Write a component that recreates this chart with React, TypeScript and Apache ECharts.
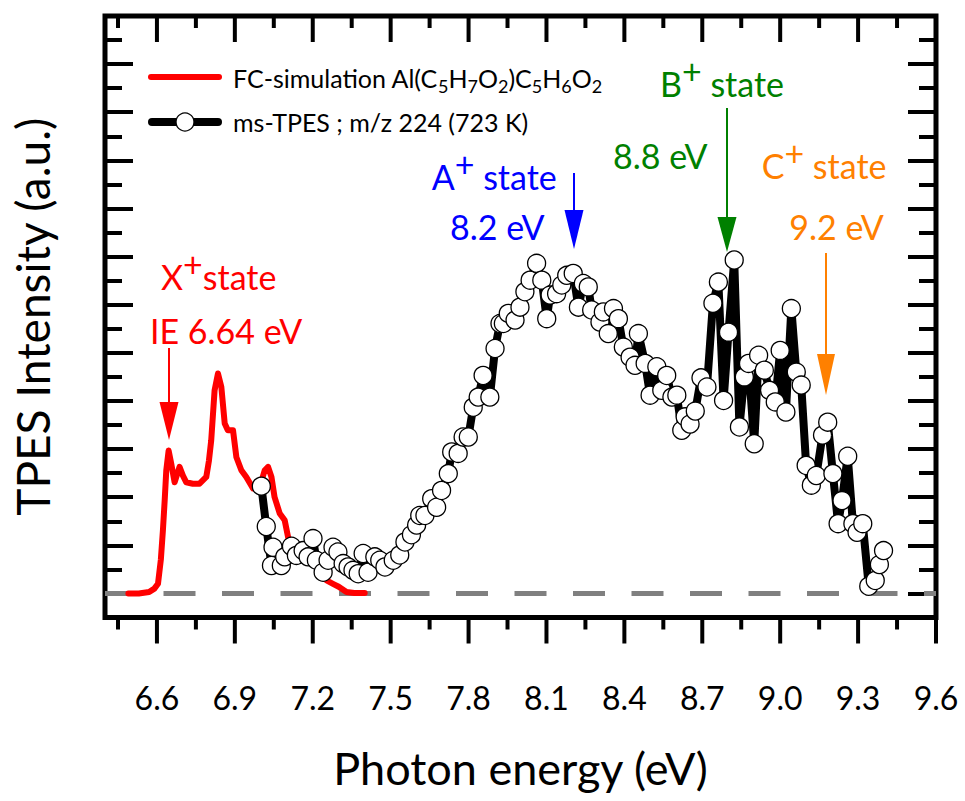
import React, { useEffect, useRef } from "react";
import * as echarts from "echarts";

// Franck-Condon simulation (red curve)
const fcEnergy = [
  6.49, 6.53, 6.57, 6.59, 6.604, 6.615, 6.623, 6.63, 6.636, 6.645, 6.655, 6.668, 6.687, 6.7,
  6.713, 6.738, 6.764, 6.79, 6.8, 6.809, 6.822, 6.835, 6.848, 6.861, 6.873, 6.893, 6.906,
  6.925, 6.944, 6.97, 6.996, 7.015, 7.028, 7.041, 7.053, 7.073, 7.092, 7.105, 7.124, 7.163,
  7.201, 7.227, 7.253, 7.278, 7.3, 7.33, 7.36, 7.4,
];
const fcIntensity = [
  0.0, 0.0, 0.03, 0.1, 0.2, 0.7, 1.31, 1.95, 2.56, 2.97, 2.7, 2.31, 2.63, 2.45,
  2.31, 2.28, 2.28, 2.42, 2.75, 3.18, 4.22, 4.57, 4.29, 3.53, 3.39, 3.39, 2.83,
  2.56, 2.42, 2.18, 2.21, 2.56, 2.63, 2.42, 2.0, 1.66, 1.52, 1.17, 0.89, 0.69,
  0.62, 0.48, 0.27, 0.2, 0.14, 0.03, 0.01, 0.01,
];

// Mass-selected TPES, m/z 224 (black line with open circles)
const tpesEnergy = [
  7.002, 7.021, 7.041, 7.047, 7.079, 7.092, 7.118, 7.137, 7.163, 7.182, 7.201, 7.214, 7.24,
  7.259, 7.278, 7.297, 7.317, 7.336, 7.355, 7.375, 7.394, 7.413, 7.439, 7.458, 7.478, 7.51,
  7.535, 7.555, 7.58, 7.6, 7.612, 7.632, 7.658, 7.677, 7.696, 7.722, 7.735, 7.76, 7.779,
  7.799, 7.818, 7.837, 7.856, 7.882, 7.902, 7.921, 7.934, 7.953, 7.979, 7.998, 8.017, 8.037,
  8.062, 8.082, 8.101, 8.114, 8.139, 8.159, 8.178, 8.203, 8.223, 8.242, 8.261, 8.274, 8.306,
  8.319, 8.338, 8.358, 8.377, 8.396, 8.422, 8.441, 8.454, 8.48, 8.499, 8.525, 8.544, 8.563,
  8.583, 8.602, 8.621, 8.634, 8.653, 8.673, 8.695, 8.718, 8.741, 8.762, 8.782, 8.801, 8.823,
  8.843, 8.862, 8.878, 8.9, 8.917, 8.939, 8.959, 8.981, 9.0, 9.022, 9.043, 9.062, 9.081,
  9.1, 9.12, 9.139, 9.163, 9.183, 9.203, 9.223, 9.238, 9.26, 9.28, 9.296, 9.318, 9.341,
  9.366, 9.382, 9.398,
];
const tpesIntensity = [
  2.23, 1.39, 0.58, 0.96, 0.58, 0.76, 0.98, 0.79, 0.89, 0.76, 1.14, 0.69, 0.44,
  0.69, 0.96, 0.86, 0.62, 0.55, 0.48, 0.41, 0.83, 0.44, 0.76, 0.69, 0.55, 0.69,
  0.8, 1.07, 1.22, 1.42, 1.62, 1.62, 1.97, 1.79, 2.14, 2.49, 2.94, 2.91, 3.25,
  3.25, 3.87, 4.08, 4.53, 4.08, 5.09, 5.61, 5.61, 5.82, 5.68, 5.95, 6.27, 6.51,
  6.86, 6.51, 5.71, 6.2, 6.23, 6.41, 6.61, 6.65, 5.95, 6.44, 6.37, 5.89, 5.64,
  5.85, 5.4, 5.92, 5.71, 5.12, 4.91, 4.74, 5.4, 4.78, 4.12, 4.71, 4.22, 4.53,
  4.08, 4.12, 3.39, 3.67, 3.52, 3.79, 4.48, 4.29, 6.03, 6.47, 4.01, 5.43, 6.93,
  3.46, 4.5, 4.78, 3.11, 4.95, 4.64, 4.22, 3.98, 5.05, 3.77, 5.92, 4.6, 4.33,
  2.66, 2.25, 2.45, 3.29, 3.56, 2.49, 1.45, 1.93, 2.85, 1.45, 1.27, 1.45, 0.15,
  0.27, 0.6, 0.89,
];

// Axis extent and tick positions
const xMin = 6.4;
const xMax = 9.6;
const yMin = -0.5;
const yMax = 12;
const baselineLevel = 0;
const xMajorTicks = [6.6, 6.9, 7.2, 7.5, 7.8, 8.1, 8.4, 8.7, 9.0, 9.3, 9.6];
const xMinorTicks = [6.45, 6.75, 7.05, 7.35, 7.65, 7.95, 8.25, 8.55, 8.85, 9.15, 9.45];
const yMajorTicks = [0, 1, 2, 3, 4, 5, 6, 7, 8, 9, 10, 11, 12];
const yMinorTicks = [0.5, 1.5, 2.5, 3.5, 4.5, 5.5, 6.5, 7.5, 8.5, 9.5, 10.5, 11.5];

const FONT = "Lato, 'Open Sans', sans-serif";
const RED = "#ff0000";
const BLUE = "#0000ff";
const GREEN = "#008000";
const ORANGE = "#ff8000";

const GRID = { left: 105, right: 29, top: 16, bottom: 183.5 };

function baseAxis(kind: "x" | "y", gridIndex: number, position: string, extra: Record<string, unknown> = {}) {
  return {
    type: "value",
    gridIndex,
    position,
    min: kind === "x" ? xMin : yMin,
    max: kind === "x" ? xMax : yMax,
    splitLine: { show: false },
    axisLine: { show: false, onZero: false },
    axisTick: { show: false },
    axisLabel: { show: false },
    ...extra,
  };
}

const tickStyle = { color: "#000", width: 4 };

function yTickAxis(gridIndex: number, position: string, values: number[], length: number) {
  return baseAxis("y", gridIndex, position, {
    axisTick: { show: true, inside: true, length, customValues: values, lineStyle: tickStyle },
  });
}

// Energy-axis ticks drawn through the x scale: outward at the bottom, inward at the top
function xTickSeries(values: number[], length: number) {
  return {
    type: "custom",
    xAxisIndex: 0,
    yAxisIndex: 0,
    silent: true,
    clip: false,
    z: 10,
    data: values.map((v) => [v, yMin]),
    encode: { x: 0, y: 1 },
    renderItem: (_params: any, api: any) => {
      const v = api.value(0);
      const bottom = api.coord([v, yMin]);
      const top = api.coord([v, yMax]);
      const style = { stroke: "#000", lineWidth: 4 };
      return {
        type: "group",
        children: [
          { type: "line", shape: { x1: bottom[0], y1: bottom[1], x2: bottom[0], y2: bottom[1] + length }, style },
          { type: "line", shape: { x1: top[0], y1: top[1], x2: top[0], y2: top[1] + length }, style },
        ],
      };
    },
  };
}

function arrow(x: number, top: number, headTop: number, tip: number, half: number, color: string) {
  return [
    {
      type: "line",
      z: 100,
      shape: { x1: x, y1: top, x2: x, y2: headTop + 2 },
      style: { stroke: color, lineWidth: 2 },
    },
    {
      type: "polygon",
      z: 100,
      shape: { points: [[x - half, headTop], [x + half, headTop], [x, tip]] },
      style: { fill: color },
    },
  ];
}

function stateLabel(letter: string, x: number, y: number, color: string, gap: string) {
  return {
    type: "text",
    z: 100,
    x,
    y,
    style: {
      text: `${letter}{p|+}${gap}state`,
      fill: color,
      fontSize: 34,
      fontFamily: FONT,
      lineHeight: 60,
      verticalAlign: "middle",
      align: "left",
      rich: {
        p: { fontSize: 34, lineHeight: 18, verticalAlign: "top", fill: color, fontFamily: FONT },
      },
    },
  };
}

function plainLabel(text: string, x: number, y: number, color: string) {
  return {
    type: "text",
    z: 100,
    x,
    y,
    style: { text, fill: color, fontSize: 34, fontFamily: FONT, verticalAlign: "middle", align: "left" },
  };
}

export default function App() {
  const ref = useRef<HTMLDivElement>(null);

  useEffect(() => {
    if (!ref.current) return;
    const chart = echarts.init(ref.current, null, { renderer: "svg" });

    const fcData = fcEnergy.map((e, i) => [e, fcIntensity[i]]);
    const tpesData = tpesEnergy.map((e, i) => [e, tpesIntensity[i]]);

    const subStyle = { fontSize: 18, lineHeight: 14, verticalAlign: "bottom", fill: "#000", fontFamily: FONT };

    chart.setOption({
      animation: false,
      backgroundColor: "#ffffff",
      grid: [
        { ...GRID, show: true, borderColor: "#000", borderWidth: 5, backgroundColor: "transparent" },
        { ...GRID, show: false },
        { ...GRID, show: false },
      ],
      xAxis: [
        baseAxis("x", 0, "bottom", {
          axisLabel: {
            show: true,
            customValues: xMajorTicks,
            formatter: (v: number) => v.toFixed(1),
            fontSize: 32,
            margin: 64,
            color: "#000",
            fontFamily: FONT,
          },
          name: "Photon energy (eV)",
          nameLocation: "middle",
          nameGap: 128,
          nameTextStyle: { fontSize: 45, color: "#000", fontFamily: FONT },
        }),
        baseAxis("x", 1, "bottom"),
        baseAxis("x", 2, "bottom"),
      ],
      yAxis: [
        baseAxis("y", 0, "left", {
          name: "TPES Intensity (a.u.)",
          nameLocation: "middle",
          nameRotate: 90,
          nameGap: 50,
          nameTextStyle: { fontSize: 46, color: "#000", fontFamily: FONT },
        }),
        yTickAxis(1, "left", yMinorTicks, 17),
        yTickAxis(1, "right", yMinorTicks, 17),
        yTickAxis(2, "left", yMajorTicks, 28),
        yTickAxis(2, "right", yMajorTicks, 28),
      ],
      series: [
        {
          name: "baseline",
          type: "line",
          xAxisIndex: 0,
          yAxisIndex: 0,
          z: 1,
          symbol: "none",
          silent: true,
          data: [
            [xMin, baselineLevel],
            [xMax, baselineLevel],
          ],
          lineStyle: { color: "#808080", width: 5, type: [32, 26.5] },
        },
        {
          name: "FC-simulation",
          type: "line",
          xAxisIndex: 0,
          yAxisIndex: 0,
          z: 2,
          symbol: "none",
          data: fcData,
          lineStyle: { color: RED, width: 6, cap: "round", join: "round" },
        },
        {
          name: "ms-TPES",
          type: "line",
          xAxisIndex: 0,
          yAxisIndex: 0,
          z: 3,
          symbol: "circle",
          symbolSize: 18,
          showSymbol: true,
          data: tpesData,
          lineStyle: { color: "#000", width: 8, join: "round" },
          itemStyle: { color: "#fff", borderColor: "#000", borderWidth: 1.3 },
        },
        xTickSeries(xMajorTicks, 26),
        xTickSeries(xMinorTicks, 12),
      ],
      graphic: [
        // legend
        {
          type: "line",
          z: 100,
          shape: { x1: 151, y1: 77, x2: 219, y2: 77 },
          style: { stroke: RED, lineWidth: 6, lineCap: "round" },
        },
        {
          type: "text",
          z: 100,
          x: 233,
          y: 78,
          style: {
            text: "FC-simulation Al(C{s|5}H{s|7}O{s|2})C{s|5}H{s|6}O{s|2}",
            fontSize: 25,
            lineHeight: 34,
            fontFamily: FONT,
            fill: "#000",
            verticalAlign: "middle",
            rich: { s: subStyle },
          },
        },
        {
          type: "line",
          z: 100,
          shape: { x1: 152, y1: 122, x2: 218, y2: 122 },
          style: { stroke: "#000", lineWidth: 8, lineCap: "round" },
        },
        {
          type: "circle",
          z: 101,
          shape: { cx: 185, cy: 122, r: 9 },
          style: { fill: "#fff", stroke: "#000", lineWidth: 1.3 },
        },
        {
          type: "text",
          z: 100,
          x: 233,
          y: 122,
          style: {
            text: "ms-TPES ; m/z 224 (723 K)",
            fontSize: 25,
            fontFamily: FONT,
            fill: "#000",
            verticalAlign: "middle",
          },
        },
        // state annotations
        stateLabel("X", 161, 276, RED, ""),
        plainLabel("IE 6.64 eV", 150, 330, RED),
        ...arrow(169, 348, 402, 440, 9.5, RED),
        stateLabel("A", 431.7, 176, BLUE, " "),
        plainLabel("8.2 eV", 450, 226, BLUE),
        ...arrow(574, 173, 210, 249, 9.5, BLUE),
        stateLabel("B", 660, 83, GREEN, " "),
        plainLabel("8.8 eV", 613, 155, GREEN),
        ...arrow(727, 108, 217, 252, 9.5, GREEN),
        stateLabel("C", 761.7, 165.5, ORANGE, " "),
        plainLabel("9.2 eV", 789.3, 226, ORANGE),
        ...arrow(826, 253, 354, 395, 9, ORANGE),
      ],
    });

    return () => chart.dispose();
  }, []);

  return <div ref={ref} style={{ position: "fixed", left: 0, top: 0, width: 965, height: 801 }} />;
}
